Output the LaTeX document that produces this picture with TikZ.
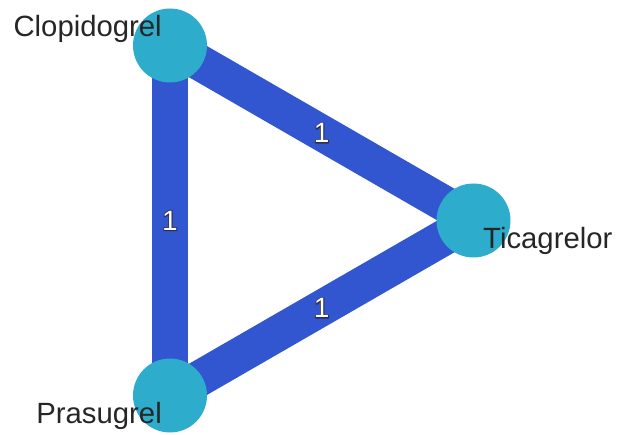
\documentclass[tikz,border=0pt]{standalone}
\usepackage{fontspec}
\setmainfont{Liberation Sans}
\usetikzlibrary{calc}
\definecolor{edgeblue}{HTML}{3156D0}
\definecolor{nodecyan}{HTML}{2EACCC}
\tikzset{
  drug/.style={circle, fill=nodecyan, minimum size=74pt, inner sep=0pt},
  link/.style={edgeblue, line width=36pt},
  druglabel/.style={font=\fontsize{29.3}{31}\selectfont, text=black!85, inner sep=0pt},
  weight/.style={font=\fontsize{28}{30}\selectfont, inner sep=0pt, text=white},
}
% white digit over a dark stroked copy of itself, giving an outer rim
\newcommand{\rimmed}[1]{%
  \rlap{\special{pdf:literal direct 1 Tr 2 w 1 J 1 j 0.18 0.18 0.28 RG}#1\special{pdf:literal direct 0 Tr}}#1}
\begin{document}
\begin{tikzpicture}[x=1pt, y=-1pt]
  \useasboundingbox (0,0) rectangle (618,435);
  \coordinate (c) at (170,45.5);
  \coordinate (t) at (473.5,220.5);
  \coordinate (p) at (170,395.5);
  \draw[link] (c) -- (t);
  \draw[link] (c) -- (p);
  \draw[link] (p) -- (t);
  \node[drug] (clo) at (c) {};
  \node[drug] (tic) at (t) {};
  \node[drug] (pra) at (p) {};
  \node[weight] (w1) at ($(clo)!0.5!(tic)$) {\rimmed{1}};
  \node[weight] (w2) at ($(clo)!0.5!(pra)$) {\rimmed{1}};
  \node[weight] (w3) at ($(pra)!0.5!(tic)$) {\rimmed{1}};
  \node[druglabel, anchor=base east] (lclo) at (162,37) {Clopidogrel};
  \node[druglabel, anchor=base west] (ltic) at (483,249) {Ticagrelor};
  \node[druglabel, anchor=base east] (lpra) at (162,423) {Prasugrel};
\end{tikzpicture}
\end{document}
